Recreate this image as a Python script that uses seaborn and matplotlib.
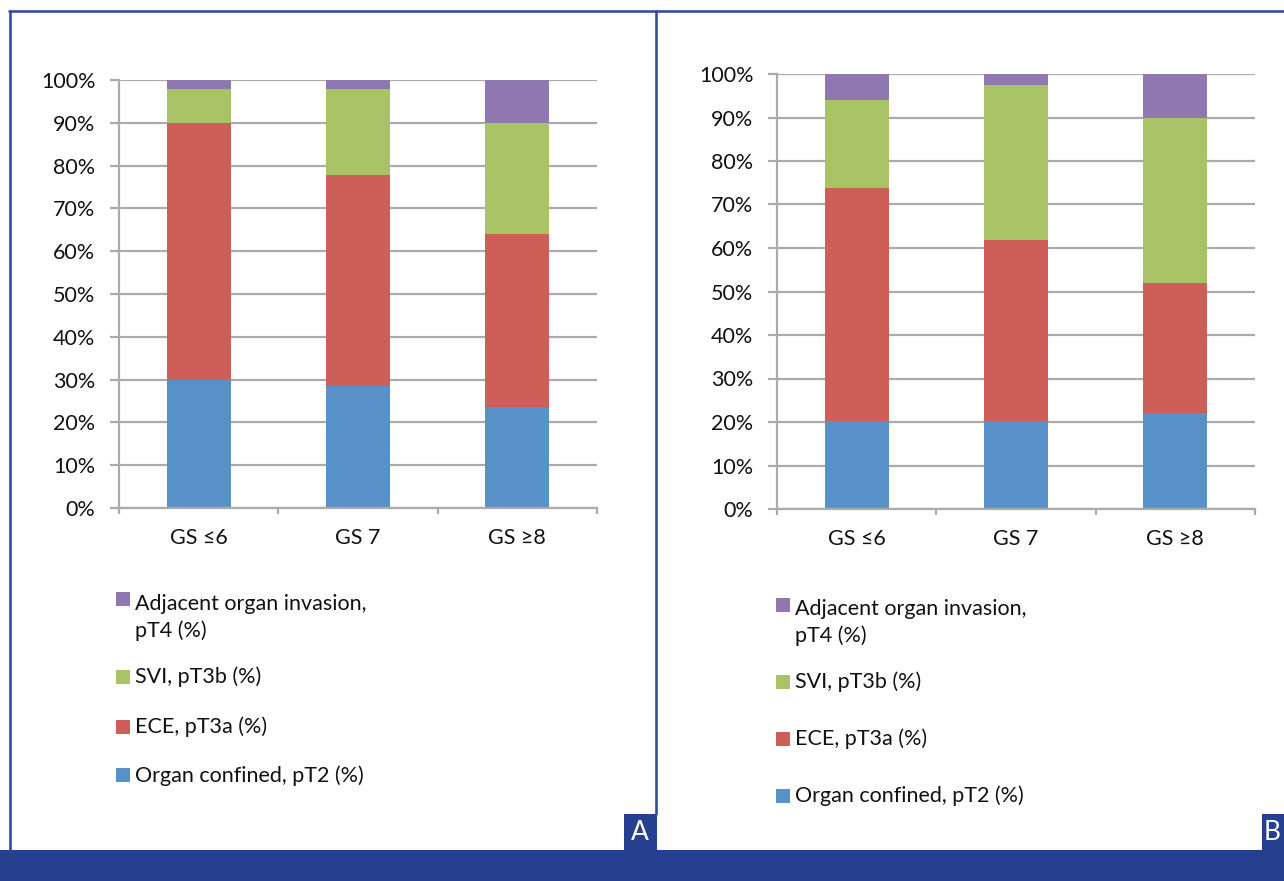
import numpy as np
import pandas as pd
import matplotlib
matplotlib.use("Agg")
import matplotlib.pyplot as plt
import seaborn as sns
from matplotlib.patches import Rectangle
from matplotlib.lines import Line2D
from matplotlib.ticker import PercentFormatter, FixedLocator

# --- data (share of patients, %) ---
categories = ["GS \u22646", "GS 7", "GS \u22658"]
series_names = ["Organ confined, pT2 (%)", "ECE, pT3a (%)", "SVI, pT3b (%)",
                "Adjacent organ invasion,\npT4 (%)"]

# panel A
a_pt2 = [30, 28.6, 23.5]
a_pt3a = [60, 49.3, 40.5]
a_pt3b = [8, 20, 26]
a_pt4 = [2, 2.1, 10]

# panel B
b_pt2 = [20.3, 20.2, 22]
b_pt3a = [53.6, 41.6, 30]
b_pt3b = [20.1, 35.6, 38]
b_pt4 = [6, 2.6, 10]

colors = ["#5891C8", "#CD5F58", "#A8C366", "#8F77AF"]
grid_col = "#ABABAB"
navy = "#24408E"
fs = 15.5

W, H = 1284, 881
sns.set_theme(style="white")
plt.rcParams["font.family"] = ["Lato", "DejaVu Sans"]
fig = plt.figure(figsize=(W / 100, H / 100), dpi=100)


def fx(px):
    return px / W


def fy(py):
    return 1 - py / H


def stacked(ax, layers):
    df = pd.DataFrame({"cat": categories})
    cum = np.cumsum(np.array(layers, dtype=float), axis=0)
    # draw tallest first so lower segments sit on top
    for i in range(len(layers) - 1, -1, -1):
        df["val"] = cum[i] / 100
        sns.barplot(data=df, x="cat", y="val", color=colors[i], width=0.4,
                    saturation=1, ax=ax, order=categories, linewidth=0)
    ax.set_xlim(-0.5, 2.5)
    ax.set_ylim(0, 1)
    ax.set_xlabel("")
    ax.set_ylabel("")
    ax.yaxis.set_major_locator(FixedLocator(np.arange(0, 1.01, 0.1)))
    ax.yaxis.set_major_formatter(PercentFormatter(1.0, decimals=0))
    ax.set_axisbelow(True)
    ax.yaxis.grid(True, color=grid_col, linewidth=1.6)
    ax.xaxis.grid(False)
    for s in ["top", "right"]:
        ax.spines[s].set_visible(False)
    for s in ["left", "bottom"]:
        ax.spines[s].set_color(grid_col)
        ax.spines[s].set_linewidth(1.6)
    ax.tick_params(axis="y", which="major", left=True, length=6.5, width=1.6,
                   color=grid_col, pad=10.5, labelsize=fs, labelcolor="#111111")
    ax.set_xticks([-0.5, 0.5, 1.5, 2.5], minor=True)
    ax.tick_params(axis="x", which="minor", bottom=True, length=4.5, width=1.6,
                   color=grid_col)
    ax.tick_params(axis="x", which="major", bottom=False, length=0, pad=14.5,
                   labelsize=fs, labelcolor="#111111")


def legend(x0, rows):
    # rows: (marker top px, text baseline px) from top entry (pT4) down
    order = [3, 2, 1, 0]
    for k, (mtop, base) in zip(order, rows):
        fig.add_artist(Rectangle((fx(x0), fy(mtop + 14)), fx(14), 14 / H,
                                 transform=fig.transFigure, color=colors[k], lw=0))
        fig.text(fx(x0 + 19), fy(base), series_names[k], fontsize=fs,
                 color="#111111", va="baseline", ha="left", linespacing=1.4)


axA = fig.add_axes([fx(119), fy(508), fx(597 - 119), (508 - 80) / H])
stacked(axA, [a_pt2, a_pt3a, a_pt3b, a_pt4])
axB = fig.add_axes([fx(777), fy(509), fx(1255 - 777), (509 - 74) / H])
stacked(axB, [b_pt2, b_pt3a, b_pt3b, b_pt4])

# legends; multi-line label: text baseline set for last line
legend(116, [(592, 637), (670, 683), (720, 733), (768, 782)])
legend(776, [(598, 642), (675, 688), (732, 745), (789, 802)])

# frame
lw = 2.6
fig.add_artist(Line2D([fx(9), fx(W)], [fy(11), fy(11)], color="#2E4B9E", lw=lw * 0.72))
fig.add_artist(Line2D([fx(10), fx(10)], [fy(11), fy(850)], color="#2E4B9E", lw=lw * 0.72))
fig.add_artist(Line2D([fx(655.5), fx(655.5)], [fy(11), fy(814)], color="#2E4B9E", lw=lw * 0.72))
fig.add_artist(Rectangle((0, 0), 1, (881 - 850) / H, transform=fig.transFigure,
                         color=navy, lw=0))
fig.add_artist(Rectangle((fx(624), fy(850)), fx(657 - 624), 36 / H,
                         transform=fig.transFigure, color=navy, lw=0))
fig.add_artist(Rectangle((fx(1262), fy(850)), fx(W - 1262), 36 / H,
                         transform=fig.transFigure, color=navy, lw=0))
fig.text(fx(640), fy(832), "A", color="white", fontsize=19, ha="center", va="center")
fig.text(fx(1264), fy(832), "B", color="white", fontsize=19, ha="left", va="center")

fig.savefig("out.png", dpi=100)
